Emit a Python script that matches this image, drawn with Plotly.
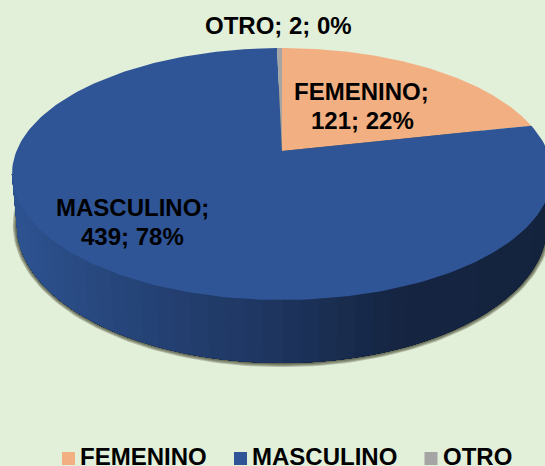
"""3D style pie chart of respondents by sex (perspective drawn on plain axes)."""

import numpy as np
import plotly.graph_objects as go

CATEGORIES = ["FEMENINO", "MASCULINO", "OTRO"]
VALUES = [121, 439, 2]
PERCENTS = [22, 78, 0]
COLORS = ["#F2AF81", "#2F5597", "#A5A5A5"]

BACKGROUND = "#E2EFD9"
FONT = {"family": "Liberation Sans", "size": 24, "color": "#000000"}

# Disc projection in page pixels
APEX_X, APEX_Y = 282, 151
RADIUS_X, RADIUS_Y = 265.5, 121.8
PERSPECTIVE = 0.1825
# lower rim is a bit narrower than the top and drops further at the front
RIM_WIDTH = 0.982
RIM_STRETCH = 1.095
RIM_DROP = 51
WIDEST_Y = 174

# Side wall shading: page x -> (r, g, b)
SHADE_X = [12, 120, 270, 400, 552]
SHADE_RGB = [(45, 83, 145), (38, 69, 122), (30, 53, 96), (21, 37, 66), (20, 35, 61)]


def project(theta):
    """Map an angle on the disc (clockwise from the back) to page pixels."""
    div = 1 + PERSPECTIVE * np.cos(theta)
    x = APEX_X + RADIUS_X * np.sin(theta) / div
    y = APEX_Y - RADIUS_Y * np.cos(theta) / div
    return x, y


def project_rim(theta, grow=0.0):
    """Same angle on the lower rim of the wall."""
    x, y = project(theta)
    rim_x = APEX_X + (x - APEX_X) * (RIM_WIDTH + grow / RADIUS_X)
    rim_y = WIDEST_Y + RIM_DROP + (y - WIDEST_Y) * (RIM_STRETCH + grow / RADIUS_Y)
    return rim_x, rim_y


def polygon(x, y, color, name=None):
    return go.Scatter(
        x=x,
        y=y,
        mode="lines",
        fill="toself",
        fillcolor=color,
        line={"color": color, "width": 0},
        hoverinfo="skip" if name is None else "text",
        text=name,
        showlegend=False,
    )


fig = go.Figure()

# soft shadow around the lower rim
ring = np.linspace(0, 2 * np.pi, 240)
for step in [4, 3, 2, 1]:
    sx, sy = project_rim(ring, grow=step * 1.0)
    fig.add_trace(polygon(sx, sy, "rgba(45,45,25,0.26)"))

# front wall, bands overlap so no seams show
front_start = np.arccos(-PERSPECTIVE)
front_end = 2 * np.pi - front_start
edges = np.linspace(front_start, front_end, 49)
for a, b in zip(edges[:-1], edges[1:]):
    arc = np.linspace(a, front_end, 80)
    tx, ty = project(arc)
    bx, by = project_rim(arc)
    mid_x, _ = project((a + b) / 2)
    rgb = [np.interp(mid_x, SHADE_X, [c[i] for c in SHADE_RGB]) for i in range(3)]
    color = f"rgb({rgb[0]:.0f},{rgb[1]:.0f},{rgb[2]:.0f})"
    fig.add_trace(
        polygon(
            np.concatenate([tx, bx[::-1]]),
            np.concatenate([ty, by[::-1]]),
            color,
        )
    )

# top face slices, the values set the angles
angles = np.cumsum([0] + VALUES) / sum(VALUES) * 2 * np.pi
for i, cat in enumerate(CATEGORIES):
    arc = np.linspace(angles[i], angles[i + 1], 200)
    ax, ay = project(arc)
    fig.add_trace(
        polygon(
            np.concatenate([[APEX_X], ax, [APEX_X]]),
            np.concatenate([[APEX_Y], ay, [APEX_Y]]),
            COLORS[i],
            name=f"{cat}; {VALUES[i]}; {PERCENTS[i]}%",
        )
    )

# data labels
annotations = []


def add_text(text, x, y, anchor="center"):
    annotations.append(
        {
            "text": f"<b>{text}</b>",
            "x": x,
            "y": y,
            "xref": "x",
            "yref": "y",
            "showarrow": False,
            "font": FONT,
            "xanchor": anchor,
            "yanchor": "middle",
        }
    )


add_text(f"{CATEGORIES[0]};", 361.5, 91)
add_text(f"{VALUES[0]}; {PERCENTS[0]}%", 362, 120)
add_text(f"{CATEGORIES[1]};", 132.5, 207)
add_text(f"{VALUES[1]}; {PERCENTS[1]}%", 132.5, 236)
add_text(f"{CATEGORIES[2]}; {VALUES[2]}; {PERCENTS[2]}%", 278, 25)

# legend row
swatch_x = [68.5, 240.5, 431]
text_x = [78, 250, 441]
fig.add_trace(
    go.Scatter(
        x=swatch_x,
        y=[458.5] * 3,
        mode="markers",
        marker={"symbol": "square", "size": 13, "color": COLORS},
        hoverinfo="skip",
        showlegend=False,
    )
)
for cat, x in zip(CATEGORIES, text_x):
    add_text(cat, x, 456.5, anchor="left")

fig.update_layout(
    width=545,
    height=466,
    margin={"l": 0, "r": 0, "t": 0, "b": 0, "pad": 0},
    paper_bgcolor=BACKGROUND,
    plot_bgcolor=BACKGROUND,
    showlegend=False,
    xaxis={"range": [0, 545], "visible": False, "fixedrange": True},
    yaxis={"range": [466, 0], "visible": False, "fixedrange": True},
    annotations=annotations,
)

fig.write_html(
    "out.html",
    post_script="document.body.style.margin='0';",
    config={"displayModeBar": False},
)
